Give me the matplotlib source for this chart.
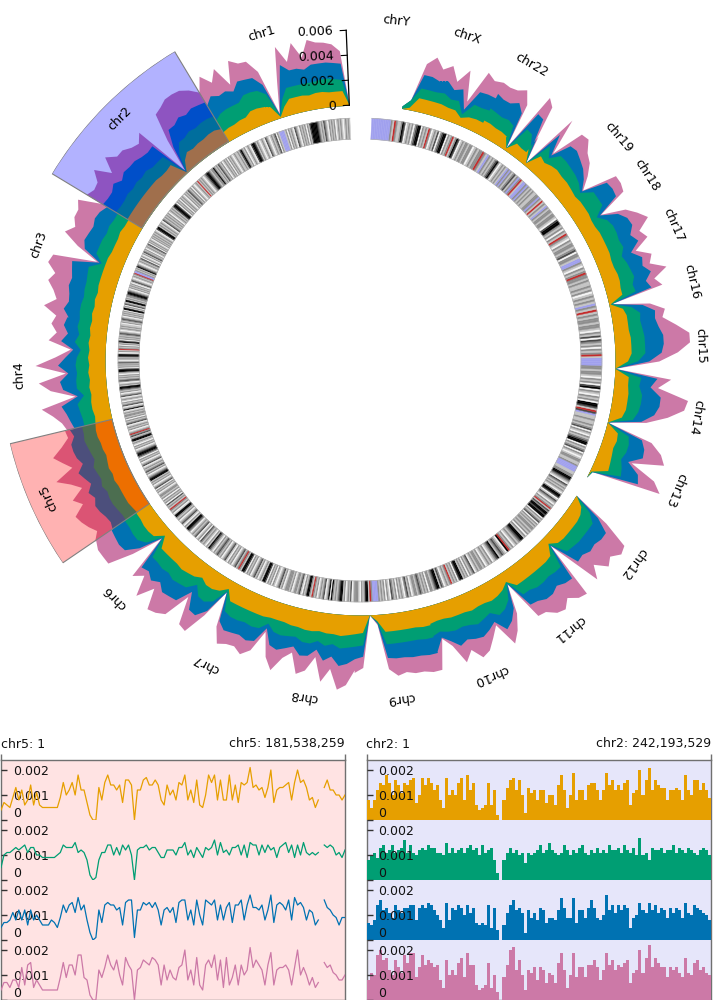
import numpy as np
import matplotlib
matplotlib.use("Agg")
import matplotlib.pyplot as plt

nan = float("nan")
COL_O, COL_G, COL_B, COL_P = "#E69F00", "#009E73", "#0072B2", "#CC79A7"

chrom_names = ["chr1","chr2","chr3","chr4","chr5","chr6","chr7","chr8","chr9","chr10","chr11","chr12",
               "chr13","chr14","chr15","chr16","chr17","chr18","chr19","chr20","chr21","chr22","chrX","chrY"]
chrom_sizes = [248.96,242.19,198.30,190.21,181.54,170.81,159.35,145.14,138.39,133.80,135.09,133.28,
               114.36,107.04,101.99,90.34,83.26,80.37,58.62,64.44,46.71,50.82,156.04,57.23]
unlabelled = ["chr20", "chr21"]

# stacked track values, in units of 0.0001, from chromosome start to end
chr1_o=[0,12,12,12,13,13,12,13,13,13,8,1,11,13,14,14,11,11,10,10,9]
chr1_g=[0,9,10,11,10,9,10,9,9,9,6,1,11,14,14,14,13,13,14,13,11]
chr1_b=[0,13,13,13,13,14,11,13,13,19,7,1,8,11,11,12,10,13,12,16,14]
chr1_p=[0,10,15,16,17,20,10,21,7,15,7,1,11,14,14,18,6,20,12,18,12]
chr2_o=[12,14,14,13,13,12,13,9,1,14,13,13,14,14,14,14,14,14,14,14]
chr2_g=[12,11,11,11,12,11,10,7,1,9,10,10,11,10,11,10,11,10,10,11]
chr2_b=[13,13,14,13,14,13,13,7,0,12,11,12,12,13,13,11,14,12,12,12]
chr2_p=[9,14,17,20,18,18,16,7,1,15,10,11,13,13,19,10,19,14,13,15]
chr3_o=[13,13,14,13,13,13,14,14,14,14,14,13,14,13,14,13]
chr3_g=[10,10,10,10,11,11,10,3,12,11,10,11,9,11,10,10]
chr3_b=[10,13,13,12,12,13,10,2,14,13,12,13,12,10,13,9]
chr3_p=[5,20,15,17,12,17,6,2,16,20,14,17,13,10,16,10]
chr4_o=[13,14,13,14,13,14,13,14,13,14,13,14,14,13,14]
chr4_g=[10,10,9,11,7,9,11,9,11,10,6,11,10,10,9]
chr4_b=[10,11,9,11,6,9,14,7,13,11,5,13,11,10,8]
chr4_p=[9,10,9,10,2,8,18,2,17,10,2,16,11,7,6]
chr5_o=[14,15,15,14,14,13,14,15,14,15,14,14,14,14,13,12]
chr5_g=[11,10,11,11,10,10,12,10,10,11,10,11,11,10,10,11]
chr5_b=[10,8,11,12,12,10,13,11,9,12,11,13,12,11,11,13]
chr5_p=[4,5,8,17,12,9,19,12,8,14,11,18,17,16,13,17]
chr6_o=[13,13,14,14,13,6,15,15,15,15,16,15,14,11]
chr6_g=[11,11,11,11,8,2,10,10,11,10,11,11,11,7]
chr6_b=[13,14,14,13,7,1,12,10,13,10,13,13,13,7]
chr6_p=[15,17,16,17,7,1,10,5,17,7,18,17,14,5]
chr7_o=[11,14,14,12,7,15,15,15,15,15,15,14,14]
chr7_g=[7,11,12,10,2,9,11,11,10,11,10,5,10]
chr7_b=[7,13,13,9,1,9,12,11,11,12,11,4,11]
chr7_p=[5,14,15,4,0,5,12,10,10,12,8,3,10]
chr8_o=[14,14,15,15,16,16,15,16,16,17,16,15]
chr8_g=[10,11,9,8,10,10,8,10,8,10,10,10]
chr8_b=[11,12,10,8,11,10,7,12,10,14,13,10]
chr8_p=[10,17,8,5,15,12,6,17,10,19,17,9]
chr9_o=[15,14,0,5,14,14,14,14,14,15,15]
chr9_g=[10,10,0,1,10,10,10,10,10,10,10]
chr9_b=[10,9,0,1,11,12,12,13,13,13,13]
chr9_p=[11,9,0,1,9,14,12,13,13,14,14]
chr10_o=[14,13,13,14,14,14,15,14,14,15,14]
chr10_g=[10,9,11,11,10,11,12,11,9,13,12]
chr10_b=[13,5,8,13,11,12,11,10,8,13,11]
chr10_p=[15,1,4,14,9,16,12,7,3,13,9]
chr11_o=[14,12,8,15,15,15,15,15,15,14,6]
chr11_g=[12,9,1,9,9,11,11,10,11,12,1]
chr11_b=[11,8,1,10,11,12,12,10,12,13,1]
chr11_p=[9,5,0,11,11,14,16,13,16,17,0]
chr12_o=[6,11,12,12,12,12,11,8,0,0,0]
chr12_g=[1,10,10,11,11,11,12,8,0,0,0]
chr12_b=[1,12,10,12,11,13,13,8,0,0,0]
chr12_p=[0,21,12,19,16,20,18,8,0,0,0]
chr13_o=[0,0,1,13,12,11,10,11,10]
chr13_g=[0,0,1,11,10,8,11,10,9]
chr13_b=[0,0,0,15,14,6,14,13,11]
chr13_p=[0,0,0,19,14,3,18,14,8]
chr14_o=[10,0,10,12,12,12,11,11]
chr14_g=[9,0,9,10,11,11,9,10]
chr14_b=[11,0,7,13,15,15,9,13]
chr14_p=[8,0,4,11,20,22,6,11]
chr15_o=[11,0,10,13,13,13,12,12]
chr15_g=[10,0,8,11,11,11,11,10]
chr15_b=[13,0,9,13,15,15,13,12]
chr15_p=[11,0,8,13,21,21,14,6]
chr16_o=[12,12,10,1,12,12,13,13]
chr16_g=[10,11,7,1,11,10,12,11]
chr16_b=[12,12,9,0,13,11,14,10]
chr16_p=[6,8,6,0,9,7,13,6]
chr17_o=[13,12,12,13,13,13,13]
chr17_g=[11,11,9,12,11,12,12]
chr17_b=[10,13,8,13,10,14,13]
chr17_p=[6,8,4,8,8,14,9]
chr18_o=[13,12,12,13,13,13,12]
chr18_g=[12,11,5,13,13,13,5]
chr18_b=[13,10,3,13,14,13,2]
chr18_p=[9,7,1,7,8,9,1]
chr19_o=[12,13,14,14,15]
chr19_g=[5,8,9,10,10]
chr19_b=[2,5,8,10,12]
chr19_p=[1,4,7,8,13]
chr20_o=[15,14,12,14,2,12]
chr20_g=[10,11,5,11,0,6]
chr20_b=[12,11,3,12,0,4]
chr20_p=[13,13,2,15,0,3]
chr21_o=[9,9,10,2,9]
chr21_g=[6,14,14,0,10]
chr21_b=[4,15,15,0,13]
chr21_p=[3,12,16,0,8]
chr22_o=[10,11,11,12,12]
chr22_g=[10,11,10,10,11]
chr22_b=[12,16,13,12,13]
chr22_p=[8,12,12,11,10]
chrX_o=[10,10,9,6,10,10,11,11,11,11,2,0]
chrX_g=[11,10,11,3,8,7,9,8,8,8,6,2]
chrX_b=[11,12,11,4,10,8,10,9,11,11,0,0]
chrX_p=[14,12,17,7,16,7,13,10,16,9,0,0]
chrY_o=[0,0,0,0]
chrY_g=[0,0,0,0]
chrY_b=[0,0,0,0]
chrY_p=[0,0,0,0]

# ideogram bands: 0 white, 1-3 greys, 4 black, r centromere red, b lavender
bands = [
 "1212101212102121201231212344444312021212012301212021bbbb1203212101230121012134430121021243121",
 "121012120212102123121242212344321012121r121012021231212012120212034431212102121212301212144301212",
 "1212012120321210212312012032121012341212bbr2121012310212120123443221214412302144021212012321201",
 "12121012321212034120212r120144312102312120344210212123201214432120123012102123012401212",
 "2120212301212012r2312441210212012344320212012301212312012344121201230212012",
 "212021203121r2120144212012310214432012123012032121021432102123",
 "212012310212012312r21443021201231201214430212021012312012",
 "22120122123102124421r212012123012404212123441201213012",
 "2210212441r2bbbb212120210321202121023120122123",
 "212120221234413201212r1212034412120212301212",
 "21201212012341232104r2120121234412021212",
 "2121203212044344231r212012310344201212123012344",
 "2211bbbb2112210120321204432120120321",
 "211211b3r13440212012043021201",
 "22122bbbb1r212021230312012",
 "2122121r12b1212102121",
 "12122r212012bb1220321",
 "2212012r1202124430122",
 "12212b121r12b2211",
 "21212b2bb1r2b213212",
 "b2b121210243212",
 "12b12r2212102",
 "212212103421r212044320312102r1212044320212103421",
 "12r12bbbbbbbbbbb",
]

chr5_orange=[4,7,6,5,9,13,8,12,6,8,14,6,11,6,5,5,5,5,5,5,9,15,10,12,15,10,18,12,12,7,2,0,0,13,8,15,18,14,14,12,14,7,16,16,14,0,12,12,16,17,14,14,16,14,8,6,14,10,12,8,15,14,18,8,12,7,16,6,5,10,18,15,18,8,16,8,8,18,8,14,7,15,14,15,21,13,14,12,13,9,13,20,7,12,13,13,14,15,8,15,20,15,16,13,8,9,5,8,nan,13,16,12,12,10,10,8,10]
chr5_green=[5,10,11,11,12,13,12,13,14,11,13,13,10,10,9,9,9,9,9,10,11,14,13,13,13,15,11,12,11,8,2,0,1,8,11,11,14,14,10,13,10,14,12,14,10,0,12,13,13,14,12,13,13,11,9,9,12,12,12,10,13,13,15,10,12,9,13,11,9,13,12,13,16,10,15,11,12,10,13,13,14,10,14,9,15,14,14,10,14,11,14,12,13,9,13,14,15,11,14,9,14,10,15,11,10,11,10,11,nan,14,13,14,13,10,11,9,12]
chr5_blue=[5,7,7,8,11,8,12,8,12,6,12,8,10,8,6,6,6,8,7,5,9,14,11,14,15,11,17,12,14,8,3,0,1,12,7,14,15,14,14,12,13,6,15,16,16,1,12,12,15,14,15,13,15,12,6,12,13,11,13,7,15,16,16,8,12,6,16,10,6,16,15,14,16,8,14,8,13,15,7,14,14,16,8,14,18,13,13,12,14,8,12,18,7,14,15,14,12,16,8,17,14,15,13,8,12,11,6,8,nan,16,13,12,10,9,6,9,9]
chr5_pink=[4,7,7,5,8,8,5,13,6,14,15,5,8,6,4,4,4,4,4,4,9,15,9,14,14,10,18,18,9,8,2,0,0,12,9,13,18,14,12,16,10,6,17,14,12,0,12,13,16,15,14,17,16,14,6,14,8,12,9,8,13,14,20,8,12,6,17,6,4,14,16,13,18,8,16,5,17,6,9,14,6,14,10,12,21,13,16,14,12,6,14,19,6,12,13,13,14,12,6,13,20,10,13,10,6,9,5,7,nan,15,13,14,11,10,8,8,10]

chr2_orange=[8,5,8,12,15,14,18,15,10,16,14,11,15,14,16,17,7,10,17,14,17,15,12,14,8,5,17,10,12,10,15,17,8,18,12,15,6,4,5,6,15,6,12,2,0,8,13,16,17,12,16,10,3,13,11,12,8,12,12,7,10,10,6,14,18,12,5,10,19,8,12,12,8,14,15,15,12,8,12,19,14,16,12,14,12,15,16,6,11,12,20,10,16,21,12,16,14,13,13,8,12,12,13,12,8,18,12,10,16,16,12,15,12,9,9]
chr2_green=[8,10,11,9,13,14,11,12,14,11,12,13,16,11,14,11,10,12,13,12,14,13,13,11,11,10,15,11,13,11,12,13,11,13,14,12,13,10,14,11,12,13,8,3,0,8,11,13,11,12,10,11,7,11,10,11,12,14,11,12,15,12,11,10,11,14,12,10,12,11,13,14,11,10,12,11,13,11,12,11,14,12,12,13,11,14,12,11,13,10,17,10,11,8,13,12,12,13,11,12,12,14,11,13,12,11,13,12,11,10,12,13,12,10,10]
chr2_blue=[7,6,8,14,16,12,13,11,9,14,12,11,13,13,14,14,8,13,14,13,15,14,12,10,8,5,15,8,13,12,14,13,10,14,11,13,7,6,7,6,14,5,13,4,0,6,11,14,16,12,13,11,3,12,9,11,8,13,12,7,9,9,8,12,17,13,9,9,17,7,12,12,9,13,16,13,9,8,10,18,12,14,11,14,12,14,13,5,9,10,15,12,11,15,12,14,11,13,12,9,13,11,13,12,9,15,11,10,14,13,12,11,10,8,8]
chr2_pink=[8,11,10,18,20,16,17,12,10,16,13,11,18,15,19,19,9,13,18,14,16,15,13,14,8,5,16,10,12,10,15,17,9,19,14,14,6,4,5,6,15,5,10,3,0,9,14,20,21,12,16,10,4,12,11,13,8,13,12,7,11,10,7,15,19,12,5,10,19,9,13,13,9,14,14,16,13,8,12,19,14,16,12,14,13,15,16,7,11,12,20,11,17,22,13,17,15,13,13,9,13,12,13,11,9,17,11,10,15,16,12,13,11,10,10]

track_ticks = [0, 0.002, 0.004, 0.006]
track_tick_labels = ["0", "0.002", "0.004", "0.006"]
panel_ticks = [0, 0.001, 0.002]
panel_tick_labels = ["0", "0.001", "0.002"]

BASE, SCALE = 255.0, 12500.0
START, END = np.deg2rad(2.4), np.deg2rad(357.2)
FS = 9

fig = plt.figure(figsize=(7.2, 10), dpi=100)
ax = fig.add_axes([0, 0.28, 1, 0.72], projection="polar")
ax.set_theta_zero_location("N")
ax.set_theta_direction(1)
ax.set_rlim(0, 360)
ax.axis("off")

sizes = np.array(chrom_sizes)
edges = START + np.concatenate([[0], np.cumsum(sizes)]) / sizes.sum() * (END - START)

g = globals()
th_all, stack = [], {k: [] for k in "ogbp"}
for i, name in enumerate(chrom_names):
    n = len(g[name + "_o"])
    th_all.append(np.linspace(edges[i], edges[i + 1], n))
    for k in "ogbp":
        stack[k].append(np.array(g[f"{name}_{k}"], float) * 1e-4)
th_all = np.concatenate(th_all)
c1 = np.concatenate(stack["o"])
c2 = c1 + np.concatenate(stack["g"])
c3 = c2 + np.concatenate(stack["b"])
c4 = c3 + np.concatenate(stack["p"])
for c, col in ((c4, COL_P), (c3, COL_B), (c2, COL_G), (c1, COL_O)):
    ax.fill_between(th_all, BASE, BASE + c * SCALE, color=col, lw=0, zorder=2)

# ideogram
band_col = {"0": "#f4f4f4", "1": "#c4c4c4", "2": "#8e8e8e", "3": "#4a4a4a", "4": "#000000",
            "r": "#c42a2a", "b": "#a0a0ee"}
for i, s in enumerate(bands):
    w = (edges[i + 1] - edges[i]) / len(s)
    th = edges[i] + w * (np.arange(len(s)) + 0.5)
    cols = [band_col[c] for c in s]
    ax.bar(th, 21, width=w, bottom=221, color=cols, edgecolor=cols, lw=0.3, zorder=2)
ring = np.linspace(START, END, 720)
for r in (221, 242):
    ax.plot(ring, np.full_like(ring, r), color="#b0b0b0", lw=0.5, zorder=2.5)

# highlights
for idx, col in ((1, (0, 0, 1, 0.3)), (4, (1, 0, 0, 0.3))):
    ax.bar((edges[idx] + edges[idx + 1]) / 2, 105, width=edges[idx + 1] - edges[idx], bottom=255,
           facecolor=col, edgecolor="#808080", lw=0.8, zorder=3)

# chromosome labels
for i, name in enumerate(chrom_names):
    if name in unlabelled:
        continue
    mid = (edges[i] + edges[i + 1]) / 2
    ax.text(mid, 341, name, rotation=np.rad2deg(mid), rotation_mode="anchor",
            ha="center", va="center", fontsize=FS, zorder=5)

# radial axis of the track
t0 = START
ax.plot([t0, t0], [BASE, BASE + 0.006 * SCALE], color="k", lw=0.9, zorder=5)
for v, lab in zip(track_ticks, track_tick_labels):
    r = BASE + v * SCALE
    ax.plot([t0, t0 + 6 / r], [r, r], color="k", lw=0.8, zorder=5)
    ax.text(t0 + 13 / r, r, lab, rotation=np.rad2deg(t0), rotation_mode="anchor",
            ha="right", va="center", fontsize=FS, zorder=6)


def panel(x0, width, face, title_l, title_r, rows, as_line):
    frame = fig.add_axes([x0 / 720, 0, width / 720, 0.24], facecolor=face)
    frame.set_xlim(0, 1)
    frame.set_ylim(0, 1)
    frame.set_yticks([])
    frame.xaxis.tick_top()
    frame.set_xticks([0, 1])
    frame.set_xticklabels([])
    frame.tick_params(axis="x", length=4.3, width=1, color="#707070")
    for s in frame.spines.values():
        s.set_color("#707070")
        s.set_linewidth(1)
    fig.text(x0 / 720, 1 - 744 / 1000, title_l, ha="left", va="center", fontsize=FS, color="#111111")
    fig.text((x0 + width) / 720, 1 - 744 / 1000, title_r, ha="right", va="center", fontsize=FS, color="#111111")
    for row, (vals, col) in enumerate(rows):
        a = fig.add_axes([x0 / 720, 0.18 - 0.06 * row, width / 720, 0.06], facecolor="none")
        arr = np.array(vals, float) * 1e-4
        x = np.arange(len(arr))
        a.set_xlim(0, len(arr) - 1)
        a.set_ylim(0, 0.0024)
        if as_line:
            a.plot(x, arr, color=col, lw=0.9)
        else:
            a.fill_between(x, 0, arr, step="post", color=col, lw=0)
        for s in a.spines.values():
            s.set_visible(False)
        a.set_xticks([])
        a.set_yticks(panel_ticks)
        a.set_yticklabels(panel_tick_labels, fontsize=FS, color="#111111")
        a.tick_params(axis="y", direction="in", length=4.3, width=1, color="#333333", pad=-8.5)
        for lab in a.get_yticklabels():
            lab.set_ha("left")
        a.get_yticklabels()[0].set_va("bottom")
        a.patch.set_visible(False)


panel(1, 344, "#ffe3e3", "chr5: 1", "chr5: 181,538,259",
      [(chr5_orange, COL_O), (chr5_green, COL_G), (chr5_blue, COL_B), (chr5_pink, COL_P)], True)
panel(366.5, 344.5, "#e6e6fa", "chr2: 1", "chr2: 242,193,529",
      [(chr2_orange, COL_O), (chr2_green, COL_G), (chr2_blue, COL_B), (chr2_pink, COL_P)], False)

fig.savefig("out.png", dpi=100)
